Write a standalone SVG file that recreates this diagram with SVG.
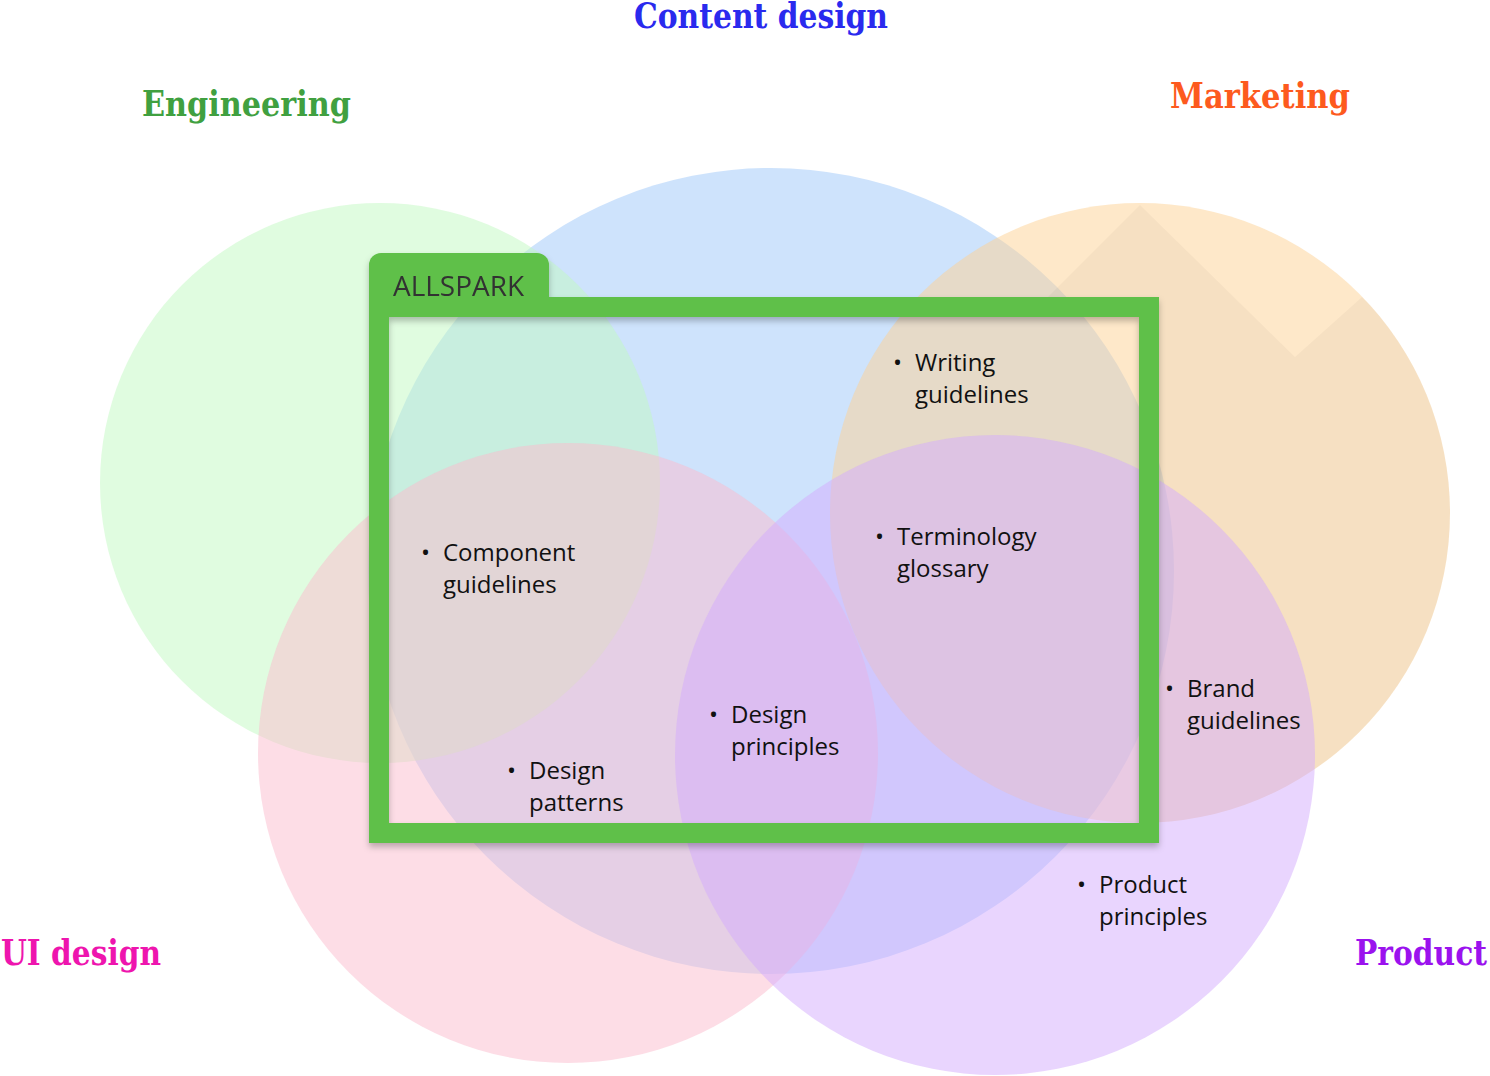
<svg xmlns="http://www.w3.org/2000/svg" width="1490" height="1076" viewBox="0 0 1490 1076">
<style>
.title{font-family:"DejaVu Serif","Liberation Serif",serif;font-weight:bold;font-size:36px}
.item{font-family:"Open Sans","Noto Sans",sans-serif;font-size:24px;fill:#111}
.c{opacity:0.5}
</style>
<defs>
<filter id="sh" x="-5%" y="-5%" width="110%" height="115%">
<feDropShadow dx="0" dy="4" stdDeviation="3" flood-color="#000" flood-opacity="0.25"/>
</filter>
<clipPath id="mk"><circle cx="1140" cy="513" r="310"/></clipPath>
</defs>
<rect width="1490" height="1076" fill="#fff"/>
<g id="content-design">
<circle class="c" cx="771" cy="571" r="403" fill="#9dc7f9"/>
<text class="title" x="634" y="28" fill="#2a2aee" textLength="254" lengthAdjust="spacingAndGlyphs">Content design</text>
</g>
<g id="engineering">
<circle class="c" cx="380" cy="483" r="280" fill="#c1f9c1"/>
<text class="title" x="142" y="116" fill="#40a040" textLength="209" lengthAdjust="spacingAndGlyphs">Engineering</text>
</g>
<g id="marketing">
<circle class="c" cx="1140" cy="513" r="310" fill="#fdd193"/>
<polygon clip-path="url(#mk)" points="1048,297 1140,205 1295,357 1362,297 1470,400 1470,860 1159,860 1159,297" fill="#000" opacity="0.03"/>
<text class="title" x="1170" y="108" fill="#fd5a1e" textLength="180" lengthAdjust="spacingAndGlyphs">Marketing</text>
</g>
<g id="ui-design">
<circle class="c" cx="568" cy="753" r="310" fill="#fbbbcd"/>
<text class="title" x="1" y="965" fill="#ee15ae" textLength="160" lengthAdjust="spacingAndGlyphs">UI design</text>
</g>
<g id="product">
<circle class="c" cx="995" cy="755" r="320" fill="#d3abfd"/>
<text class="title" x="1355" y="965" fill="#9b12ee" textLength="132" lengthAdjust="spacingAndGlyphs">Product</text>
</g>
<g id="allspark" filter="url(#sh)">
<path d="M369,307 V265 a12,12 0 0 1 12,-12 H537 a12,12 0 0 1 12,12 V307 Z" fill="#5fc048"/>
<rect x="379" y="307" width="770" height="526" fill="none" stroke="#5fc048" stroke-width="20"/>
<text x="393" y="296" font-family="'Open Sans','Noto Sans',sans-serif" font-size="28" fill="#333" textLength="131" lengthAdjust="spacingAndGlyphs">ALLSPARK</text>
</g>
<g id="writing-guidelines">
<text class="item" x="893" y="371">•</text>
<text class="item" x="915" y="371">Writing</text>
<text class="item" x="915" y="403">guidelines</text>
</g>
<g id="terminology-glossary">
<text class="item" x="875" y="545">•</text>
<text class="item" x="897" y="545">Terminology</text>
<text class="item" x="897" y="577">glossary</text>
</g>
<g id="component-guidelines">
<text class="item" x="421" y="561">•</text>
<text class="item" x="443" y="561">Component</text>
<text class="item" x="443" y="593">guidelines</text>
</g>
<g id="design-principles">
<text class="item" x="709" y="723">•</text>
<text class="item" x="731" y="723">Design</text>
<text class="item" x="731" y="755">principles</text>
</g>
<g id="design-patterns">
<text class="item" x="507" y="779">•</text>
<text class="item" x="529" y="779">Design</text>
<text class="item" x="529" y="811">patterns</text>
</g>
<g id="brand-guidelines">
<text class="item" x="1165" y="697">•</text>
<text class="item" x="1187" y="697">Brand</text>
<text class="item" x="1187" y="729">guidelines</text>
</g>
<g id="product-principles">
<text class="item" x="1077" y="893">•</text>
<text class="item" x="1099" y="893">Product</text>
<text class="item" x="1099" y="925">principles</text>
</g>
<g id="connectors"/>
</svg>
